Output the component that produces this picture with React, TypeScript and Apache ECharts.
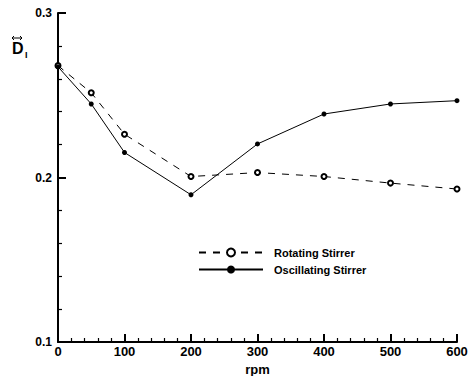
import React, { useEffect, useRef } from "react";
import * as echarts from "echarts";

const rpm = [0, 50, 100, 200, 300, 400, 500, 600];
const rotating = [0.268, 0.2515, 0.2263, 0.2006, 0.203, 0.2006, 0.1966, 0.193];
const oscillating = [0.2673, 0.2447, 0.2152, 0.1895, 0.2204, 0.2386, 0.2447, 0.2467];
const seriesNames = ["Rotating Stirrer", "Oscillating Stirrer"];
const xTitle = "rpm";

const FONT = "'Liberation Sans', Arial, sans-serif";

function axisCommon() {
  return {
    axisLine: { show: true, onZero: false, lineStyle: { color: "#000", width: 2 } },
    axisTick: { show: true, inside: true, length: 8, lineStyle: { color: "#000", width: 2 } },
    minorTick: { show: true, splitNumber: 5, length: 4, lineStyle: { color: "#000", width: 1.2 } },
    splitLine: { show: false },
    minorSplitLine: { show: false },
  };
}

export default function App() {
  const ref = useRef<HTMLDivElement>(null);
  useEffect(() => {
    if (!ref.current) return;
    const chart = echarts.init(ref.current, null, { renderer: "svg" });
    chart.setOption({
      animation: false,
      backgroundColor: "#fff",
      grid: { left: 58, right: 18, top: 13, bottom: 34, containLabel: false, outerBoundsMode: "none" },
      xAxis: {
        type: "value",
        min: 0,
        max: 600,
        interval: 100,
        ...axisCommon(),
        axisLabel: { color: "#000", fontFamily: FONT, fontWeight: "bold", fontSize: 13, margin: 3 },
        name: xTitle,
        nameLocation: "middle",
        nameGap: 18,
        nameTextStyle: { color: "#000", fontFamily: FONT, fontWeight: "bold", fontSize: 13, lineHeight: 13 },
      },
      yAxis: {
        type: "value",
        min: 0.1,
        max: 0.3,
        interval: 0.1,
        ...axisCommon(),
        axisLabel: { color: "#000", fontFamily: FONT, fontWeight: "bold", fontSize: 12, margin: 6 },
      },
      legend: {
        orient: "vertical",
        left: 193,
        top: 242,
        itemWidth: 64,
        itemHeight: 10,
        itemGap: 6,
        data: seriesNames,
        textStyle: { color: "#000", fontFamily: FONT, fontWeight: "bold", fontSize: 11, padding: [0, 0, 0, 6] },
      },
      graphic: [
        { type: "text", left: 12, top: 40, style: { text: "D", font: `bold 16px ${FONT}`, fill: "#000" } },
        { type: "text", left: 25, top: 50, style: { text: "I", font: `bold 9px ${FONT}`, fill: "#000" } },
        { type: "line", shape: { x1: 12, y1: 38, x2: 22, y2: 38 }, style: { stroke: "#000", lineWidth: 1 } },
        { type: "polyline", shape: { points: [[14, 36], [12, 38], [14, 40]] }, style: { stroke: "#000", lineWidth: 1, fill: "none" } },
        { type: "polyline", shape: { points: [[20, 36], [22, 38], [20, 40]] }, style: { stroke: "#000", lineWidth: 1, fill: "none" } },
      ],
      series: [
        {
          name: seriesNames[0],
          type: "line",
          data: rpm.map((x, i) => [x, rotating[i]]),
          symbol: "emptyCircle",
          symbolSize: 5,
          itemStyle: { color: "#000", borderColor: "#000", borderWidth: 1 },
          lineStyle: { color: "#000", width: 1, type: [7, 7] },
        },
        {
          name: seriesNames[1],
          type: "line",
          data: rpm.map((x, i) => [x, oscillating[i]]),
          symbol: "circle",
          symbolSize: 5,
          itemStyle: { color: "#000" },
          lineStyle: { color: "#000", width: 1 },
        },
      ],
    });
    return () => chart.dispose();
  }, []);
  return <div ref={ref} style={{ width: 475, height: 376, position: "absolute", left: 0, top: 0 }} />;
}
